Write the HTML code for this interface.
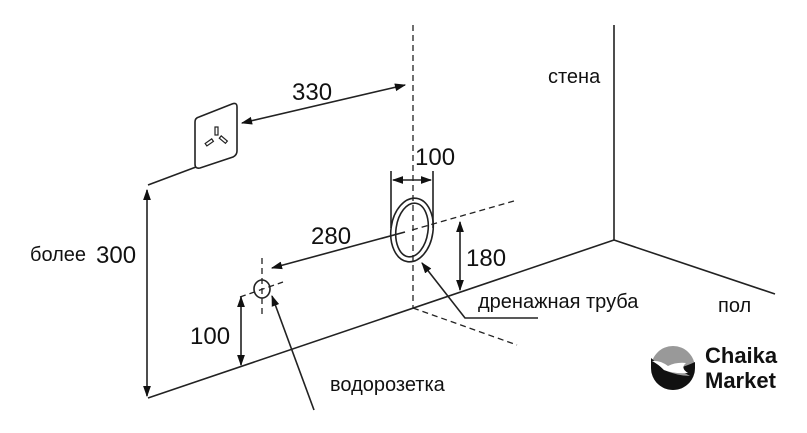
<!DOCTYPE html>
<html><head><meta charset="utf-8"><style>
html,body{margin:0;padding:0;background:#fff;}
svg{display:block;}
text{font-family:"Liberation Sans","DejaVu Sans",sans-serif;fill:#111;}
</style></head><body>
<svg width="807" height="433" viewBox="0 0 807 433" xmlns="http://www.w3.org/2000/svg">
<defs>
<marker id="a" viewBox="0 0 10 10" refX="9" refY="5" markerWidth="7" markerHeight="7" orient="auto-start-reverse"><path d="M0,1.5 L10,5 L0,8.5 z" fill="#111"/></marker>
</defs>
<g stroke="#222" stroke-width="1.6" fill="none">
<line x1="614" y1="25" x2="614" y2="240"/>
<line x1="148" y1="398" x2="614" y2="240"/>
<line x1="614" y1="240" x2="775" y2="294"/>
<line x1="148" y1="185" x2="196" y2="167"/>
<g stroke-dasharray="6,4" stroke-width="1.3">
<line x1="413" y1="25" x2="413" y2="308"/>
<line x1="413" y1="308" x2="517" y2="345"/>
<line x1="412" y1="230" x2="514" y2="201"/>
<line x1="262" y1="258" x2="262" y2="315"/>
<line x1="240" y1="297" x2="283" y2="282"/>
</g>
<path d="M199,117 L232,104 Q237,102 237,107 L237,151 Q237,155 233,157 L200,168 Q195,169 195,164 L195,122 Q195,118 199,117 Z"/>
<g stroke-width="1.2">
<rect x="215" y="127" width="3" height="8"/>
<rect x="208" y="138" width="3" height="8" transform="rotate(55 209 142)"/>
<rect x="222" y="136" width="3" height="8" transform="rotate(-50 223 140)"/>
</g>
<line x1="242" y1="123" x2="405" y2="85" marker-start="url(#a)" marker-end="url(#a)"/>
<line x1="147" y1="190" x2="147" y2="396" marker-start="url(#a)" marker-end="url(#a)"/>
<line x1="405" y1="232" x2="272" y2="268" marker-end="url(#a)"/>
<line x1="460" y1="222" x2="460" y2="290" marker-start="url(#a)" marker-end="url(#a)"/>
<line x1="241" y1="297" x2="241" y2="365" marker-start="url(#a)" marker-end="url(#a)"/>
<line x1="391" y1="171" x2="391" y2="228"/>
<line x1="433" y1="171" x2="433" y2="228"/>
<line x1="393" y1="180" x2="431" y2="180" marker-start="url(#a)" marker-end="url(#a)"/>
<ellipse cx="412" cy="230" rx="21" ry="32" transform="rotate(8 412 230)"/>
<ellipse cx="412" cy="230" rx="16" ry="27" transform="rotate(8 412 230)"/>
<ellipse cx="262" cy="289" rx="8" ry="9"/>
<polyline points="422,263 465,318 538,318" marker-start="url(#a)"/>
<line x1="272" y1="296" x2="314" y2="410" marker-start="url(#a)"/>
</g>
<text x="292" y="100" font-size="24">330</text>
<text x="415" y="165" font-size="24">100</text>
<text x="311" y="244" font-size="24">280</text>
<text x="466" y="266" font-size="24">180</text>
<text x="190" y="344" font-size="24">100</text>
<text x="30" y="261" font-size="20">более</text>
<text x="96" y="263" font-size="24">300</text>
<text x="548" y="83" font-size="20">стена</text>
<text x="478" y="308" font-size="20">дренажная труба</text>
<text x="718" y="312" font-size="20">пол</text>
<text x="330" y="391" font-size="20">водорозетка</text>
<circle cx="673" cy="368" r="22" fill="#999"/>
<path d="M651,368 A22,22 0 0 0 695,368 L695,362 Q682,368 676,368 L690,376 Q678,376 664,370 Q656,362 651,358 Z" fill="#111"/>
<path d="M652,361 Q660,360 668,366 Q676,362 686,363 Q680,368 688,373 Q674,374 664,370 Q658,364 652,361Z" fill="#fff"/>
<text x="705" y="363" font-size="22" font-weight="bold" style="fill:#111">Chaika</text>
<text x="705" y="388" font-size="22" font-weight="bold" style="fill:#111">Market</text>
</svg>
</body></html>
